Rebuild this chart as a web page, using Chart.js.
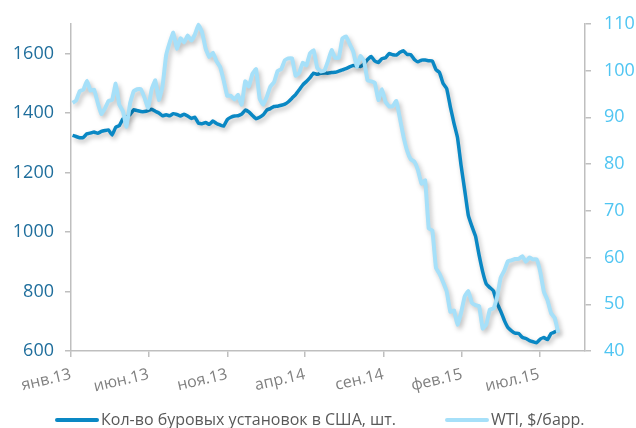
<!DOCTYPE html>
<html>
<head>
<meta charset="utf-8">
<script src="https://cdn.jsdelivr.net/npm/chart.js@4.4.1/dist/chart.umd.min.js"></script>
<style>
  html, body { margin: 0; padding: 0; background: #ffffff; }
  #chart { display: block; }
</style>
</head>
<body>
<canvas id="chart" width="636" height="428"></canvas>
<script>
// Weekly series (Friday readings), starting on the first Friday of 2013
const firstWeek = '2013-01-04';

// US oil rig count, units
const rigCount = [
  1325, 1321, 1317, 1318, 1330, 1333, 1336, 1332, 1338, 1341, 1343, 1326, 1352, 1358, 1380, 1386,
  1395, 1411, 1408, 1405, 1405, 1408, 1413, 1406, 1400, 1391, 1394, 1391, 1398, 1395, 1390, 1396,
  1390, 1382, 1386, 1366, 1364, 1368, 1362, 1373, 1365, 1360, 1356, 1378, 1386, 1390, 1391, 1396,
  1410, 1404, 1392, 1381, 1386, 1394, 1410, 1415, 1422, 1423, 1426, 1430, 1438, 1450, 1462, 1478,
  1495, 1506, 1519, 1534, 1530, 1534, 1535, 1534, 1536, 1537, 1541, 1545, 1549, 1555, 1560, 1558,
  1556, 1565, 1580, 1590, 1575, 1570, 1583, 1586, 1600, 1596, 1595, 1604, 1609, 1597, 1596, 1580,
  1572, 1578, 1578, 1576, 1575, 1546, 1536, 1499, 1482, 1421, 1366, 1317, 1223, 1140, 1056, 1019,
  986, 922, 866, 825, 813, 802, 760, 734, 703, 679, 668, 660, 659, 646, 642, 635,
  631, 628, 640, 645, 638, 659, 664, 670
];

// WTI crude, $ per barrel
const wtiPrice = [
  93.1, 93.6, 95.6, 95.9, 97.8, 95.7, 95.9, 93.1, 90.7, 91.9, 93.5, 93.7, 97.2, 92.7, 91.3, 88.0,
  93.0, 95.6, 96.0, 96.0, 94.2, 92.0, 96.0, 97.9, 93.7, 96.6, 103.2, 106.0, 108.1, 104.7, 106.9, 106.0,
  107.5, 106.4, 107.7, 109.8, 108.2, 104.7, 102.9, 103.8, 102.0, 100.8, 97.9, 94.6, 94.6, 93.8, 94.8, 92.7,
  97.7, 96.6, 99.3, 100.3, 94.0, 92.7, 94.4, 96.6, 97.5, 99.9, 100.3, 102.2, 102.6, 102.6, 98.9, 99.5,
  101.7, 101.1, 103.7, 104.3, 100.6, 99.8, 100.0, 102.0, 104.4, 102.7, 102.7, 106.9, 107.3, 105.7, 104.1, 100.8,
  103.1, 102.1, 97.9, 97.7, 97.4, 93.7, 96.0, 93.3, 92.3, 92.4, 93.5, 89.7, 85.8, 82.8, 81.0, 80.5,
  78.7, 75.8, 76.5, 66.2, 65.8, 57.8, 56.5, 54.7, 52.7, 48.4, 48.7, 45.6, 48.2, 51.7, 52.8, 50.3,
  49.8, 49.6, 44.8, 45.7, 48.9, 49.1, 51.6, 55.7, 57.2, 59.2, 59.4, 59.7, 59.7, 60.3, 59.1, 60.0,
  59.6, 59.6, 56.9, 52.7, 50.9, 48.1, 47.1, 43.9
];

// Date axis: range and labelled months
const axisStart = '2013-01-01';
const axisEnd = '2015-09-28';
const tickDates = ['2013-01-01', '2013-06-01', '2013-11-01', '2014-04-01', '2014-09-01', '2015-02-01', '2015-07-01'];
const tickLabels = ['янв.13', 'июн.13', 'ноя.13', 'апр.14', 'сен.14', 'фев.15', 'июл.15'];

const seriesNames = ['Кол-во буровых установок в США, шт.', 'WTI, $/барр.'];

const DAY = 86400000;
const dayOf = (s) => (Date.parse(s + 'T00:00:00Z') - Date.parse(axisStart + 'T00:00:00Z')) / DAY;
const weekly = (values) => values.map((v, i) => ({ x: dayOf(firstWeek) + 7 * i, y: v }));

const FONT = '"Open Sans", "Noto Sans", "DejaVu Sans", sans-serif';
const AXIS_GREY = '#bfbfbf';
const RIG_COLOR = '#0a88c4';
const WTI_COLOR = '#a6e0f9';

// Soft drop shadow under each line
const lineShadow = {
  id: 'lineShadow',
  beforeDatasetDraw(chart) {
    const ctx = chart.ctx;
    ctx.save();
    ctx.shadowColor = 'rgba(0, 0, 0, 0.26)';
    ctx.shadowBlur = 5;
    ctx.shadowOffsetX = 2;
    ctx.shadowOffsetY = 3;
  },
  afterDatasetDraw(chart) {
    chart.ctx.restore();
  }
};

// Legend row under the axis: short line sample followed by the series name
const bottomLegend = {
  id: 'bottomLegend',
  afterDraw(chart, args, opts) {
    const ctx = chart.ctx;
    ctx.save();
    ctx.font = opts.font;
    ctx.textBaseline = 'middle';
    ctx.textAlign = 'left';
    chart.data.datasets.forEach((ds, i) => {
      const x0 = opts.starts[i];
      ctx.strokeStyle = ds.borderColor;
      ctx.lineWidth = opts.sampleWidth;
      ctx.lineCap = 'round';
      ctx.beginPath();
      ctx.moveTo(x0, opts.y);
      ctx.lineTo(x0 + opts.sampleLength, opts.y);
      ctx.stroke();
      ctx.fillStyle = opts.color;
      ctx.fillText(ds.label, x0 + opts.sampleLength + opts.gap, opts.y);
    });
    ctx.restore();
  }
};

const plainNumber = (v) => String(v);

new Chart(document.getElementById('chart'), {
  type: 'line',
  data: {
    datasets: [
      {
        label: seriesNames[0],
        data: weekly(rigCount),
        yAxisID: 'y',
        borderColor: RIG_COLOR,
        borderWidth: 3.5,
        pointRadius: 0,
        tension: 0.1,
        clip: false,
        order: 2
      },
      {
        label: seriesNames[1],
        data: weekly(wtiPrice),
        yAxisID: 'y2',
        borderColor: WTI_COLOR,
        borderWidth: 4,
        pointRadius: 0,
        tension: 0.1,
        clip: false,
        order: 1
      }
    ]
  },
  options: {
    responsive: false,
    animation: false,
    devicePixelRatio: 1,
    layout: { padding: { top: 21, bottom: 25, left: 0, right: 0 } },
    plugins: {
      legend: { display: false },
      tooltip: { enabled: false },
      bottomLegend: {
        starts: [57, 447],
        y: 420,
        sampleLength: 40,
        sampleWidth: 4,
        gap: 4,
        font: '16px ' + FONT,
        color: '#595959'
      }
    },
    scales: {
      x: {
        type: 'linear',
        min: 0,
        max: dayOf(axisEnd),
        afterBuildTicks(scale) {
          scale.ticks = tickDates.map((d) => ({ value: dayOf(d) }));
        },
        afterFit(scale) { scale.height = 52; },
        ticks: {
          autoSkip: false,
          minRotation: 13,
          maxRotation: 13,
          padding: 8,
          color: '#7f7f7f',
          font: { family: FONT, size: 16 },
          callback: (value, index) => tickLabels[index]
        },
        grid: { drawOnChartArea: false, drawTicks: true, tickLength: 6, color: AXIS_GREY, lineWidth: 1.5 },
        border: { color: AXIS_GREY, width: 1.5 }
      },
      y: {
        position: 'left',
        min: 600,
        max: 1700,
        afterFit(scale) { scale.width = 71; },
        ticks: {
          stepSize: 200,
          includeBounds: false,
          padding: 11,
          color: '#1f6e9c',
          font: { family: FONT, size: 18 },
          callback: plainNumber
        },
        grid: { drawOnChartArea: false, drawTicks: true, tickLength: 6, color: AXIS_GREY, lineWidth: 1.5 },
        border: { color: AXIS_GREY, width: 1.5 }
      },
      y2: {
        position: 'right',
        min: 40,
        max: 110,
        afterFit(scale) { scale.width = 51; },
        ticks: {
          stepSize: 10,
          padding: 13,
          color: '#4fc5f2',
          font: { family: FONT, size: 18 },
          callback: plainNumber
        },
        grid: { drawOnChartArea: false, drawTicks: true, tickLength: 6, color: AXIS_GREY, lineWidth: 1.5 },
        border: { color: AXIS_GREY, width: 1.5 }
      }
    }
  },
  plugins: [lineShadow, bottomLegend]
});
</script>
</body>
</html>
